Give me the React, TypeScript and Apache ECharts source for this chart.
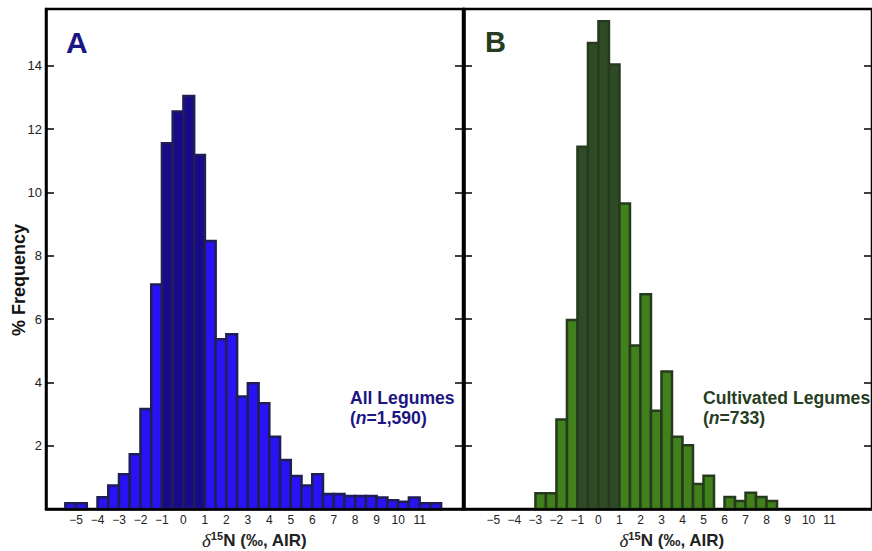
import React, { useEffect, useRef } from "react";
import * as echarts from "echarts";

// Histogram bins (lower edge, upper edge) in ‰ and % frequency
const binStartA = [-5.5, -5, -4.5, -4, -3.5, -3, -2.5, -2, -1.5, -1, -0.5, 0, 0.5, 1, 1.5, 2, 2.5, 3, 3.5, 4, 4.5, 5, 5.5, 6, 6.5, 7, 7.5, 8, 8.5, 9, 9.5, 10, 10.5, 11, 11.5];
const binEndA = [-5, -4.5, -4, -3.5, -3, -2.5, -2, -1.5, -1, -0.5, 0, 0.5, 1, 1.5, 2, 2.5, 3, 3.5, 4, 4.5, 5, 5.5, 6, 6.5, 7, 7.5, 8, 8.5, 9, 9.5, 10, 10.5, 11, 11.5, 12];
const freqA = [0.18, 0.18, 0, 0.37, 0.74, 1.1, 1.73, 3.16, 7.09, 11.55, 12.55, 13.04, 11.18, 8.46, 5.36, 5.52, 3.55, 3.97, 3.34, 2.28, 1.55, 1.04, 0.74, 1.1, 0.47, 0.47, 0.41, 0.41, 0.41, 0.36, 0.28, 0.23, 0.36, 0.18, 0.18];

const binStartB = [-3, -2.5, -2, -1.5, -1, -0.5, 0, 0.5, 1, 1.5, 2, 2.5, 3, 3.5, 4, 4.5, 5, 5.5, 6, 6.5, 7, 7.5, 8];
const binEndB = [-2.5, -2, -1.5, -1, -0.5, 0, 0.5, 1, 1.5, 2, 2.5, 3, 3.5, 4, 4.5, 5, 5.5, 6, 6.5, 7, 7.5, 8, 8.5];
const freqB = [0.5, 0.5, 2.83, 5.97, 11.44, 14.72, 15.4, 14.04, 9.65, 5.16, 6.78, 3.1, 4.34, 2.28, 2.01, 0.79, 1.05, 0, 0.38, 0.25, 0.51, 0.38, 0.25];

// Range of bins drawn in the darker shade
const darkRange = [-1, 1];

const xTickValues = [-5, -4, -3, -2, -1, 0, 1, 2, 3, 4, 5, 6, 7, 8, 9, 10, 11];
const yTickValues = [2, 4, 6, 8, 10, 12, 14];

const panelTitles = ["A", "B"];
const groupNames = ["All Legumes", "Cultivated Legumes"];
const groupCounts = ["1,590", "733"];

const FONT = "'Liberation Sans', Arial, Helvetica, sans-serif";
const NAVY = "#1b1682";
const GREEN_TXT = "#263d1f";

function buildData(starts: number[], ends: number[], vals: number[]) {
  const out: number[][] = [];
  for (let i = 0; i < starts.length; i++) {
    if (vals[i] > 0) out.push([starts[i], ends[i], vals[i]]);
  }
  return out;
}

function makeRender(light: string, dark: string, stroke: string) {
  return (params: any, api: any) => {
    const x0 = api.value(0);
    const x1 = api.value(1);
    const y = api.value(2);
    const p0 = api.coord([x0, y]);
    const p1 = api.coord([x1, 0]);
    const isDark = x0 >= darkRange[0] && x1 <= darkRange[1];
    return {
      type: "rect",
      shape: { x: p0[0], y: p0[1], width: p1[0] - p0[0], height: p1[1] - p0[1] },
      style: { fill: isDark ? dark : light, stroke, lineWidth: 2.5 },
    };
  };
}

const fmtX = (v: number) => (v < 0 ? "\u2212" + Math.abs(v) : String(v));

export default function App() {
  const ref = useRef<HTMLDivElement>(null);
  useEffect(() => {
    if (!ref.current) return;
    const chart = echarts.init(ref.current, undefined, { renderer: "svg" });
    const grids = [
      { left: 46, top: 9, width: 417, height: 500 },
      { left: 464, top: 9, width: 417, height: 500 },
    ];
    const xAxes = [0, 1].map((g) => ({
      type: "value",
      gridIndex: g,
      min: -6.4,
      max: 13.02,
      z: 5,
      splitLine: { show: false },
      axisTick: { show: false },
      axisLine: { show: true, onZero: false, lineStyle: { color: "#000", width: 2.5 } },
      axisLabel: {
        customValues: xTickValues,
        formatter: fmtX,
        fontSize: 12,
        fontFamily: FONT,
        color: "#222",
        margin: 5,
      },
    }));
    const yAxes: any[] = [];
    [0, 1].forEach((g) => {
      ["left", "right"].forEach((pos) => {
        yAxes.push({
          type: "value",
          gridIndex: g,
          position: pos,
          min: 0,
          max: 15.79,
          z: 5,
          splitLine: { show: false },
          axisLine: { show: true, onZero: false, lineStyle: { color: "#000", width: 2.5 } },
          axisTick: {
            show: true,
            inside: true,
            length: 8,
            customValues: yTickValues,
            lineStyle: { color: "#000", width: 1.5 },
          },
          axisLabel: {
            show: g === 0 && pos === "left",
            customValues: yTickValues,
            fontSize: 13,
            fontFamily: FONT,
            color: "#222",
            margin: 4,
          },
        });
      });
    });

    const xTitle = (cx: number) => ({
      type: "text",
      x: cx,
      y: 540,
      style: {
        text: "{d|\u03b4}{s|15}{b|N (\u2030, AIR)}",
        align: "center",
        verticalAlign: "middle",
        rich: {
          d: { fontFamily: "'Liberation Serif', 'DejaVu Serif', serif", fontStyle: "italic", fontSize: 19, fill: "#222", color: "#222", lineHeight: 20 },
          s: { fontFamily: FONT, fontWeight: "bold", fontSize: 11, fill: "#222", color: "#222", lineHeight: 12, verticalAlign: "top" },
          b: { fontFamily: FONT, fontWeight: "bold", fontSize: 17, fill: "#222", color: "#222", lineHeight: 20 },
        },
      },
    });

    const legend = (x: number, name: string, count: string, col: string) => [
      {
        type: "text",
        x,
        y: 397.5,
        style: { text: name, fontFamily: FONT, fontWeight: "bold", fontSize: 17.6, fill: col, align: "left", verticalAlign: "middle" },
      },
      {
        type: "text",
        x,
        y: 418,
        style: {
          text: "{b|(}{i|n}{b|=" + count + ")}",
          align: "left",
          verticalAlign: "middle",
          rich: {
            b: { fontFamily: FONT, fontWeight: "bold", fontSize: 17.6, fill: col, color: col },
            i: { fontFamily: FONT, fontWeight: "bold", fontStyle: "italic", fontSize: 17.6, fill: col, color: col },
          },
        },
      },
    ];

    chart.setOption({
      animation: false,
      grid: grids.map((g) => ({ ...g, show: true, borderColor: "#000", borderWidth: 2.5, backgroundColor: "transparent" })),
      xAxis: xAxes,
      yAxis: yAxes,
      series: [
        {
          type: "custom",
          xAxisIndex: 0,
          yAxisIndex: 0,
          coordinateSystem: "cartesian2d",
          encode: { x: [0, 1], y: 2 },
          renderItem: makeRender("#2a12f6", "#170b8a", "#1f1f55"),
          data: buildData(binStartA, binEndA, freqA),
        },
        {
          type: "custom",
          xAxisIndex: 1,
          yAxisIndex: 2,
          coordinateSystem: "cartesian2d",
          encode: { x: [0, 1], y: 2 },
          renderItem: makeRender("#41801a", "#2e4b25", "#253a1e"),
          data: buildData(binStartB, binEndB, freqB),
        },
      ],
      graphic: [
        { type: "text", x: 66, y: 42.5, style: { text: panelTitles[0], fontFamily: FONT, fontWeight: "bold", fontSize: 30, fill: NAVY, align: "left", verticalAlign: "middle" } },
        { type: "text", x: 485, y: 41.5, style: { text: panelTitles[1], fontFamily: FONT, fontWeight: "bold", fontSize: 29, fill: GREEN_TXT, align: "left", verticalAlign: "middle" } },
        {
          type: "text",
          x: 18.5,
          y: 280,
          rotation: Math.PI / 2,
          style: { text: "% Frequency", fontFamily: FONT, fontWeight: "bold", fontSize: 18, fill: "#111", align: "center", verticalAlign: "middle" },
        },
        xTitle(254.5),
        xTitle(672),
        ...legend(350, groupNames[0], groupCounts[0], NAVY),
        ...legend(703, groupNames[1], groupCounts[1], GREEN_TXT),
      ],
    });
    return () => chart.dispose();
  }, []);
  return <div ref={ref} style={{ position: "absolute", left: 0, top: 0, width: 872, height: 551, background: "#fff" }} />;
}
